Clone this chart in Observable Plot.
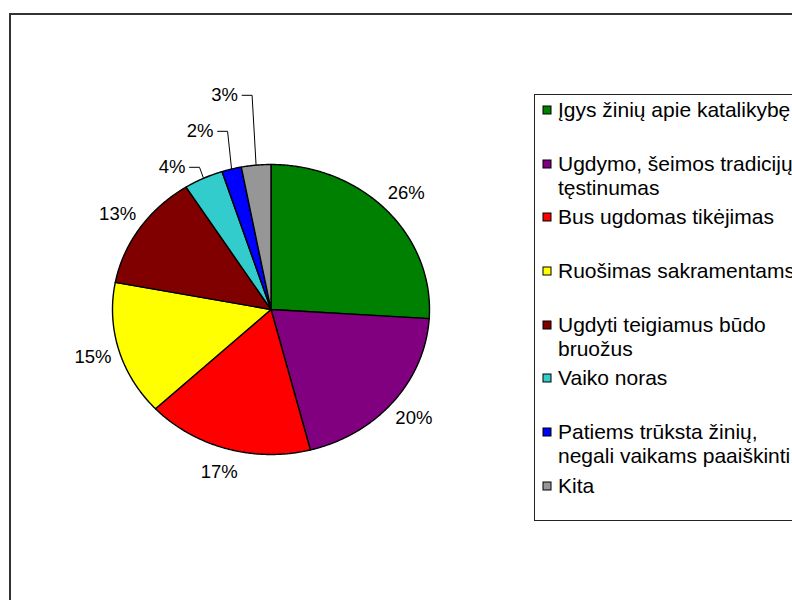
<!DOCTYPE html>
<html><head><meta charset="utf-8">
<script src="https://cdn.jsdelivr.net/npm/d3@7"></script>
<script src="https://cdn.jsdelivr.net/npm/@observablehq/plot@0.6"></script>
<style>
html,body{margin:0;padding:0;background:#fff;width:792px;height:600px;overflow:hidden;}
#wrap{position:relative;width:792px;height:600px;overflow:hidden;font-family:"Liberation Sans",Arial,sans-serif;}
#chart{position:absolute;left:0;top:0;}
#frame{position:absolute;left:9px;top:13px;width:900px;height:700px;border:2px solid #333;box-sizing:border-box;pointer-events:none;}
#legbox{position:absolute;left:534px;top:94px;width:400px;height:427px;border:1px solid #222;box-sizing:border-box;}
#legend{position:absolute;left:543px;top:98px;width:260px;}
#legend .lg-swatches{margin:0;font-family:"Liberation Sans",Arial,sans-serif;font-size:21px;color:#000;}
#legend .lg-swatch{display:flex;align-items:flex-start;height:53.7px;padding:0;margin:0;}
#legend .lg-swatch > svg{flex-shrink:0;margin:8px 7px 0 0;overflow:visible;}
#legend .lg-swatch rect{stroke:#000;stroke-width:1px;}
#legend .lg-swatch-label{white-space:normal;overflow:visible;line-height:24px;font-size:21px;}
</style>
</head><body>
<div id="wrap">
  <div id="chart"></div>
  <div id="frame"></div>
  <div id="legbox"></div>
  <div id="legend"></div>
</div>
<script>
const categories = [
  "Įgys žinių apie katalikybę",
  "Ugdymo, šeimos tradicijų tęstinumas",
  "Bus ugdomas tikėjimas",
  "Ruošimas sakramentams",
  "Ugdyti teigiamus būdo bruožus",
  "Vaiko noras",
  "Patiems trūksta žinių, negali vaikams paaiškinti",
  "Kita"
];
const values = [26, 20, 17, 15, 13, 4, 2, 3];
const labels = ["26%", "20%", "17%", "15%", "13%", "4%", "2%", "3%"];
const colors = ["#008000", "#800080", "#FF0000", "#FFFF00", "#800000", "#33CCCC", "#0000FF", "#969696"];

// layout
const X0 = 112, X1 = 429, Y0 = 454, Y1 = 164;
const rx = (X1 - X0) / 2, ry = (Y0 - Y1) / 2;
const px = v => v / rx, py = v => v / ry;

const arcs = d3.pie().sort(null).value(d => d)(values);

const slicePts = [];
arcs.forEach((a, i) => {
  const key = categories[i];
  slicePts.push({key, x: 0, y: 0});
  const n = Math.max(2, Math.ceil((a.endAngle - a.startAngle) / (Math.PI / 360)));
  for (let j = 0; j <= n; j++) {
    const t = a.startAngle + (a.endAngle - a.startAngle) * j / n;
    slicePts.push({key, x: Math.sin(t), y: Math.cos(t)});
  }
  slicePts.push({key, x: 0, y: 0});
});

const bigLabels = [], smallLabels = [], leaders = [];
let k = 0, firstSmallY = null;
arcs.forEach((a, i) => {
  const mid = (a.startAngle + a.endAngle) / 2;
  const ex = Math.sin(mid), ey = Math.cos(mid);
  if (values[i] >= 5) {
    bigLabels.push({text: labels[i], x: 1.17 * ex, y: 1.17 * ey});
  } else {
    if (firstSmallY === null) firstSmallY = ey;
    const ly = firstSmallY + py(11) + py(36) * k;
    const elbowX = ex - px(4);
    smallLabels.push({text: labels[i], x: elbowX - px(14), y: ly});
    leaders.push({key: labels[i], x: elbowX - px(10), y: ly});
    leaders.push({key: labels[i], x: elbowX, y: ly});
    leaders.push({key: labels[i], x: ex, y: ey});
    k++;
  }
});

const chart = Plot.plot({
  width: 792, height: 600,
  margin: 0,
  style: {fontFamily: "Liberation Sans, Arial, sans-serif", background: "transparent", color: "#000"},
  x: {domain: [-1, 1], range: [X0, X1], axis: null},
  y: {domain: [-1, 1], range: [Y0, Y1], axis: null},
  color: {type: "ordinal", domain: categories, range: colors},
  marks: [
    Plot.line(slicePts, {x: "x", y: "y", z: "key", fill: "key", stroke: "#000", strokeWidth: 1.4, strokeLinejoin: "round"}),
    Plot.line(leaders, {x: "x", y: "y", z: "key", stroke: "#000", strokeWidth: 1, strokeLinejoin: "miter"}),
    Plot.text(bigLabels, {x: "x", y: "y", text: "text", fontSize: 18.5, fill: "#000", textAnchor: "middle"}),
    Plot.text(smallLabels, {x: "x", y: "y", text: "text", fontSize: 18.5, fill: "#000", textAnchor: "end"})
  ]
});
document.getElementById("chart").appendChild(chart);

const leg = Plot.legend({
  color: {type: "ordinal", domain: categories, range: colors},
  columns: 1, swatchSize: 8, className: "lg"
});
document.getElementById("legend").appendChild(leg);
</script>
</body></html>
